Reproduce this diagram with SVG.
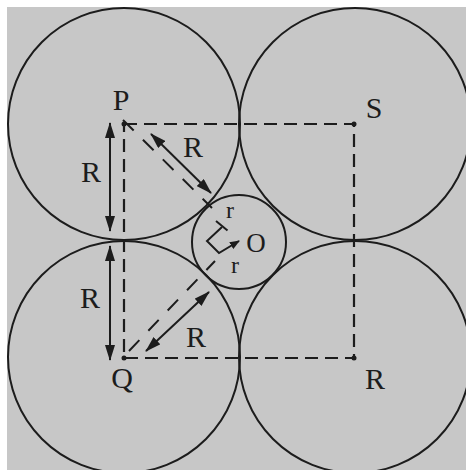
<svg xmlns="http://www.w3.org/2000/svg" width="466" height="470" viewBox="0 0 466 470">
<defs>
<style>
.c{fill:none;stroke:#1c1c1c;stroke-width:2}
.d{fill:none;stroke:#1c1c1c;stroke-width:2.2;stroke-dasharray:13 7}
.dd{fill:none;stroke:#1c1c1c;stroke-width:2;stroke-dasharray:15 13}
.a{fill:none;stroke:#1c1c1c;stroke-width:2}
.t{font-family:"Liberation Serif","Times New Roman",serif;fill:#1c1c1c;text-anchor:middle}
</style>
<marker id="ah" viewBox="0 0 16 10" refX="15" refY="5" markerWidth="16" markerHeight="10" markerUnits="userSpaceOnUse" orient="auto-start-reverse">
<path d="M0,0 L16,5 L0,10 Z" fill="#1c1c1c"/>
</marker>
<marker id="sh" viewBox="0 0 10 8" refX="9" refY="4" markerWidth="10" markerHeight="8" markerUnits="userSpaceOnUse" orient="auto">
<path d="M0,0 L10,4 L0,8 Z" fill="#1c1c1c"/>
</marker>
<clipPath id="clip"><rect x="7" y="7" width="459" height="463"/></clipPath>
</defs>
<rect x="0" y="0" width="466" height="470" fill="#ffffff"/>
<rect x="7" y="7" width="459" height="463" fill="#c7c7c7"/>
<g clip-path="url(#clip)">
<g id="circleP"><circle class="c" cx="124" cy="124" r="116"/></g>
<g id="circleS"><circle class="c" cx="355" cy="124" r="116"/></g>
<g id="circleQ"><circle class="c" cx="124" cy="357" r="116"/></g>
<g id="circleR"><circle class="c" cx="355" cy="357" r="116"/></g>
<g id="circleO"><circle class="c" cx="239" cy="242" r="47"/></g>
</g>
<g id="connectors">
<path class="d" d="M124,124 H354 V358 H124 Z"/>
<line class="dd" x1="123" y1="120" x2="212" y2="208"/>
<line class="dd" x1="216" y1="221" x2="228" y2="231"/>
<line class="dd" x1="129" y1="351" x2="215" y2="261" stroke-dasharray="12 9"/>
<line class="a" x1="110" y1="123" x2="110" y2="231" marker-start="url(#ah)" marker-end="url(#ah)"/>
<line class="a" x1="110" y1="246" x2="110" y2="360" marker-start="url(#ah)" marker-end="url(#ah)"/>
<line class="a" x1="151" y1="134" x2="211" y2="193" marker-start="url(#ah)" marker-end="url(#ah)"/>
<line class="a" x1="146" y1="351" x2="209" y2="292" marker-start="url(#ah)" marker-end="url(#ah)"/>
<polyline class="a" points="222,227 207,241 219,253 239,241" marker-end="url(#sh)"/>
<circle cx="124" cy="124" r="2.5" fill="#1c1c1c"/>
<circle cx="354" cy="124" r="2.5" fill="#1c1c1c"/>
<circle cx="124" cy="358" r="2.5" fill="#1c1c1c"/>
<circle cx="354" cy="358" r="2.5" fill="#1c1c1c"/>
</g>
<g id="labels">
<text class="t" x="121" y="110" font-size="30">P</text>
<text class="t" x="374" y="118" font-size="30">S</text>
<text class="t" x="122" y="388" font-size="30">Q</text>
<text class="t" x="375" y="389" font-size="30">R</text>
<text class="t" x="91" y="182" font-size="30">R</text>
<text class="t" x="90" y="308" font-size="30">R</text>
<text class="t" x="193" y="157" font-size="30">R</text>
<text class="t" x="196" y="347" font-size="30">R</text>
<text class="t" x="256" y="252" font-size="27">O</text>
<text class="t" x="230" y="218" font-size="24">r</text>
<text class="t" x="235" y="273" font-size="24">r</text>
</g>
</svg>
